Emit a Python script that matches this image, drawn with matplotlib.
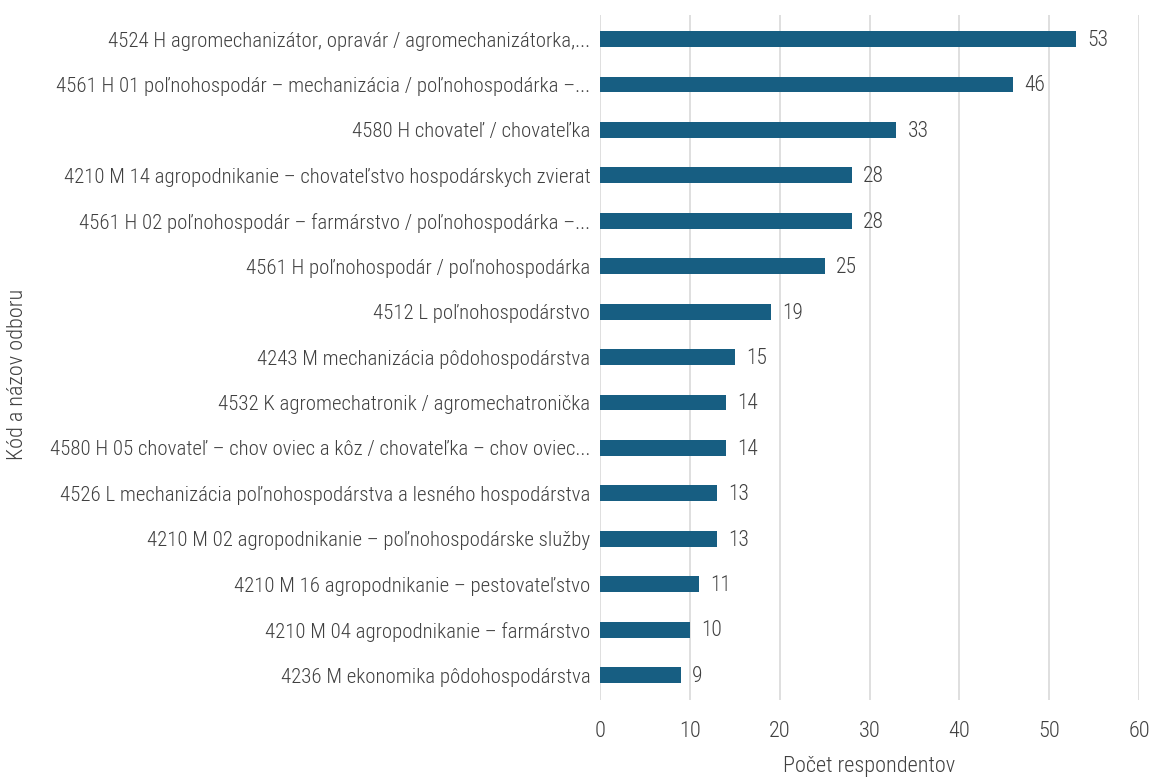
import matplotlib
matplotlib.use("Agg")
import matplotlib.pyplot as plt
from matplotlib import font_manager

categories = [
    "4524 H agromechanizátor, opravár / agromechanizátorka,...",
    "4561 H 01 poľnohospodár – mechanizácia / poľnohospodárka –...",
    "4580 H chovateľ / chovateľka",
    "4210 M 14 agropodnikanie – chovateľstvo hospodárskych zvierat",
    "4561 H 02 poľnohospodár – farmárstvo / poľnohospodárka –...",
    "4561 H poľnohospodár / poľnohospodárka",
    "4512 L poľnohospodárstvo",
    "4243 M mechanizácia pôdohospodárstva",
    "4532 K agromechatronik / agromechatronička",
    "4580 H 05 chovateľ – chov oviec a kôz / chovateľka – chov oviec...",
    "4526 L mechanizácia poľnohospodárstva a lesného hospodárstva",
    "4210 M 02 agropodnikanie – poľnohospodárske služby",
    "4210 M 16 agropodnikanie – pestovateľstvo",
    "4210 M 04 agropodnikanie – farmárstvo",
    "4236 M ekonomika pôdohospodárstva",
]
values = [53, 46, 33, 28, 28, 25, 19, 15, 14, 14, 13, 13, 11, 10, 9]
x_ticks = [0, 10, 20, 30, 40, 50, 60]
x_label = "Počet respondentov"
y_label = "Kód a názov odboru"

available = {f.name for f in font_manager.fontManager.ttflist}
family = "DejaVu Sans"
for cand in ["Roboto Condensed", "Liberation Sans Narrow", "DejaVu Sans Condensed"]:
    if cand in available:
        family = cand
        break
plt.rcParams["font.family"] = [family, "DejaVu Sans"]
plt.rcParams["font.weight"] = "light"
plt.rcParams["axes.labelweight"] = "light"

bar_color = "#175E82"
text_color = "#404040"

fig = plt.figure(figsize=(11.53, 7.79), dpi=100)
ax = fig.add_axes([0.5204, 0.1014, 0.4675, 0.8793])

pos = list(range(len(categories)))
ax.barh(pos, values, height=0.35, color=bar_color, zorder=3)
for p, v in zip(pos, values):
    ax.annotate(str(v), (v, p), xytext=(8, -1), textcoords="offset points",
                va="center", ha="left", fontsize=15.5, color=text_color,
                fontweight="light")

ax.set_ylim(len(categories) - 0.45, -0.53)
ax.set_xlim(0, 60)
ax.set_xticks(x_ticks)
ax.set_yticks(pos)
ax.set_yticklabels(categories)
ax.tick_params(axis="both", length=0, labelsize=15, colors=text_color)
ax.tick_params(axis="x", labelsize=16, pad=15)
ax.tick_params(axis="y", pad=7)
ax.xaxis.grid(True, color="#d9d9d9", linewidth=1.2, zorder=0)
ax.yaxis.grid(False)
for s in ax.spines.values():
    s.set_visible(False)

ax.set_xlabel(x_label, fontsize=16, color=text_color, labelpad=10,
              fontweight="light")
fig.text(0.015, 0.52, y_label, rotation=90, fontsize=16, color=text_color,
         va="center", ha="center", fontweight="light")

fig.savefig("out.png", dpi=100, facecolor="white")
